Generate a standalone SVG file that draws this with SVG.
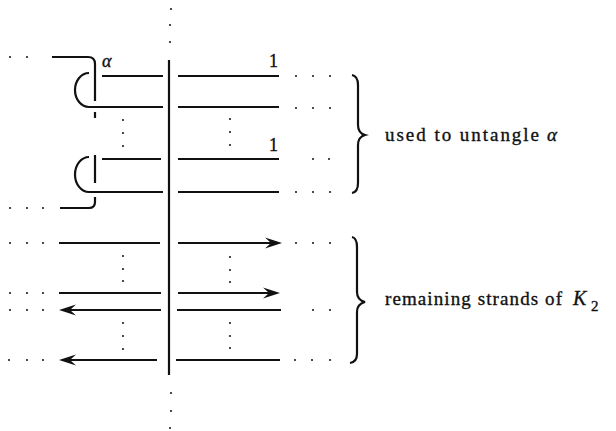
<svg xmlns="http://www.w3.org/2000/svg" width="616" height="431" viewBox="0 0 616 431">
<style>
.s{stroke:#111;stroke-width:2.2;fill:none;stroke-linecap:butt}
.t{font-family:"Liberation Serif","Times New Roman",serif;font-size:19px;fill:#111;stroke:#111;stroke-width:0.35}
.i{font-style:italic}
</style>
<defs>
<path id="ah" d="M0,0 L-17,-5.5 L-11,0 L-17,5.5 Z" fill="#111"/>
<circle id="dot" r="1.1" fill="#222"/>
</defs>
<rect width="616" height="431" fill="#fff"/>

<g id="axis">
<line class="s" x1="169" y1="60" x2="169" y2="375"/>
<use href="#dot" x="171" y="9"/><use href="#dot" x="170" y="25"/><use href="#dot" x="170" y="42"/>
<use href="#dot" x="171" y="393"/><use href="#dot" x="171" y="411"/><use href="#dot" x="170" y="428"/>
</g>

<g id="strand-alpha">
<path class="s" d="M52,57 L88,57 Q95,57 95,64 L95,101"/>
<path class="s" d="M95,112 L95,118"/>
<path class="s" d="M95,155 L95,183"/>
<path class="s" d="M95,197 L95,202 Q95,208 89,208 L60,208"/>
<use href="#dot" x="10" y="57"/><use href="#dot" x="27" y="57"/>
<use href="#dot" x="10" y="208"/><use href="#dot" x="27" y="208"/><use href="#dot" x="43" y="208"/>
<text class="t i" x="102" y="67" style="font-size:18px">α</text>
</g>

<g id="connectors">
<path class="s" d="M89,73 A14 17 0 0 0 89,107 L163,107"/>
<line class="s" x1="102" y1="76" x2="163" y2="76"/>
<path class="s" d="M89,157 A14 17.5 0 0 0 89,192 L163,192"/>
<line class="s" x1="102" y1="159" x2="161" y2="159"/>
<line class="s" x1="178" y1="76" x2="279" y2="76"/>
<line class="s" x1="178" y1="107" x2="279" y2="107"/>
<line class="s" x1="178" y1="159" x2="279" y2="159"/>
<line class="s" x1="178" y1="192" x2="279" y2="192"/>
<line class="s" x1="59" y1="243" x2="160" y2="243"/>
<line class="s" x1="178" y1="243" x2="276" y2="243"/>
<use href="#ah" x="282" y="243"/>
<line class="s" x1="59" y1="293" x2="161" y2="293"/>
<line class="s" x1="178" y1="293" x2="274" y2="293"/>
<use href="#ah" x="280" y="293"/>
<line class="s" x1="65" y1="310" x2="161" y2="310"/>
<use href="#ah" transform="translate(59 310) rotate(180)"/>
<line class="s" x1="177" y1="310" x2="281" y2="310"/>
<line class="s" x1="65" y1="360" x2="157" y2="360"/>
<use href="#ah" transform="translate(59 360) rotate(180)"/>
<line class="s" x1="176" y1="360" x2="280" y2="360"/>
</g>

<g id="labels-1">
<text class="t" x="269" y="67" style="font-size:18px">1</text>
<text class="t" x="269" y="151" style="font-size:18px">1</text>
</g>

<g id="dots">
<use href="#dot" x="296" y="76"/><use href="#dot" x="313" y="76"/><use href="#dot" x="330" y="76"/>
<use href="#dot" x="296" y="108"/><use href="#dot" x="313" y="108"/><use href="#dot" x="330" y="108"/>
<use href="#dot" x="313" y="159"/><use href="#dot" x="329" y="159"/>
<use href="#dot" x="296" y="192"/><use href="#dot" x="313" y="192"/><use href="#dot" x="330" y="192"/>
<use href="#dot" x="123" y="120"/><use href="#dot" x="123" y="133"/><use href="#dot" x="123" y="146"/>
<use href="#dot" x="230" y="119"/><use href="#dot" x="230" y="132"/><use href="#dot" x="230" y="145"/>
<use href="#dot" x="10" y="243"/><use href="#dot" x="27" y="243"/><use href="#dot" x="43" y="243"/>
<use href="#dot" x="296" y="243"/><use href="#dot" x="313" y="243"/><use href="#dot" x="330" y="243"/>
<use href="#dot" x="123" y="256"/><use href="#dot" x="123" y="269"/><use href="#dot" x="123" y="281"/>
<use href="#dot" x="230" y="257"/><use href="#dot" x="230" y="270"/><use href="#dot" x="230" y="282"/>
<use href="#dot" x="10" y="293"/><use href="#dot" x="27" y="293"/><use href="#dot" x="43" y="293"/>
<use href="#dot" x="10" y="310"/><use href="#dot" x="27" y="310"/><use href="#dot" x="43" y="310"/>
<use href="#dot" x="313" y="310"/><use href="#dot" x="330" y="310"/>
<use href="#dot" x="123" y="323"/><use href="#dot" x="123" y="336"/><use href="#dot" x="123" y="349"/>
<use href="#dot" x="230" y="323"/><use href="#dot" x="230" y="336"/><use href="#dot" x="230" y="348"/>
<use href="#dot" x="9" y="360"/><use href="#dot" x="27" y="360"/><use href="#dot" x="43" y="360"/>
<use href="#dot" x="295" y="360"/><use href="#dot" x="312" y="360"/><use href="#dot" x="330" y="360"/>
</g>

<g id="brace-1">
<path class="s" stroke-width="1.6" d="M352,75 Q358,76 358,85 L358,125 Q358,133 365,135 Q358,137 358,145 L358,183 Q358,192 352,193"/>
<text class="t" x="385" y="141" textLength="154" lengthAdjust="spacing">used to untangle</text>
<text class="t i" x="547" y="141">α</text>
</g>

<g id="brace-2">
<path class="s" stroke-width="1.6" d="M352,237 Q357,238 357,247 L357,292 Q357,300 365,302 Q357,304 357,312 L357,354 Q357,362 350,363"/>
<text class="t" x="385" y="305" textLength="177" lengthAdjust="spacing">remaining strands of</text>
<text class="t i" x="573" y="305" style="font-size:20px">K</text>
<text class="t" x="591" y="311" style="font-size:15px">2</text>
</g>
</svg>
